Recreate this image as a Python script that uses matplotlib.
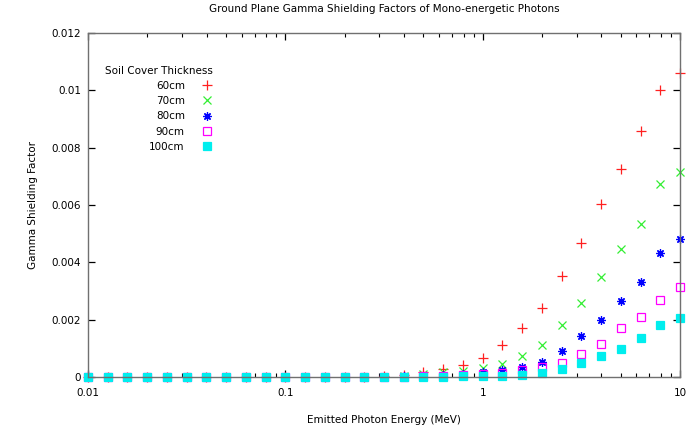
import matplotlib
matplotlib.use("Agg")
import matplotlib.pyplot as plt
from matplotlib.ticker import FixedLocator, FuncFormatter, LogLocator, NullFormatter

energies = [0.01, 0.0126, 0.0158, 0.02, 0.0251, 0.0316, 0.0398, 0.0501, 0.0631, 0.0794,
            0.1, 0.126, 0.158, 0.2, 0.251, 0.316, 0.398, 0.501, 0.631, 0.794,
            1.0, 1.26, 1.58, 2.0, 2.51, 3.16, 3.98, 5.01, 6.31, 7.94, 10.0]

z15 = [0.0] * 15
sf_60 = z15 + [0.00004, 0.00008, 0.00018, 0.00029, 0.00041, 0.00065, 0.00111, 0.00172, 0.00242,
               0.00353, 0.00466, 0.00603, 0.00724, 0.00857, 0.01001, 0.01062]
sf_70 = z15 + [0.00001, 0.00005, 0.0001, 0.00017, 0.00021, 0.0003, 0.00047, 0.00075, 0.00112,
               0.0018, 0.00257, 0.0035, 0.00446, 0.00533, 0.00675, 0.00716]
sf_80 = z15 + [0.0, 0.00002, 0.00004, 0.00006, 0.0001, 0.00017, 0.00023, 0.00034, 0.00052,
               0.00092, 0.00143, 0.00199, 0.00265, 0.0033, 0.00434, 0.00483]
sf_90 = z15 + [0.0, 0.0, 0.00002, 0.00003, 0.00006, 0.0001, 0.00015, 0.00023, 0.00034,
               0.0005, 0.00081, 0.00115, 0.00171, 0.00208, 0.0027, 0.00315]
sf_100 = z15 + [0.0, 0.0, 0.0, 0.00001, 0.00002, 0.00003, 0.00005, 0.00008, 0.00015,
                0.00027, 0.0005, 0.00072, 0.00099, 0.00136, 0.0018, 0.00207]

labels = ["60cm", "70cm", "80cm", "90cm", "100cm"]
series = [sf_60, sf_70, sf_80, sf_90, sf_100]
colors = ["#ff2020", "#33ee33", "#0000ff", "#ff00ff", "#00eeee"]
markers = ["+", "x", (8, 2, 0), "s", "s"]
fills = ["full", "full", "full", "none", "full"]
sizes = [6.5, 5.5, 6, 5.5, 5.5]

yticks = [0, 0.002, 0.004, 0.006, 0.008, 0.01, 0.012]
xticks = [0.01, 0.1, 1, 10]

plt.rcParams['font.family'] = ['DejaVu Sans']
fig = plt.figure(figsize=(6.91, 4.26), dpi=100)
ax = fig.add_axes([88/691, 49/426, 592/691, 344/426])

for y, lab, c, m, f, s in zip(series, labels, colors, markers, fills, sizes):
    ax.plot(energies, y, linestyle="none", marker=m, color=c, fillstyle=f,
            markersize=s, markeredgewidth=0.9, label=lab, clip_on=False)

ax.set_xscale("log")
ax.set_xlim(0.01, 10)
ax.set_ylim(0, 0.012)
ax.xaxis.set_major_locator(FixedLocator(xticks))
ax.xaxis.set_major_formatter(FuncFormatter(lambda v, p: "%g" % v))
ax.xaxis.set_minor_locator(LogLocator(base=10, subs=range(2, 10)))
ax.xaxis.set_minor_formatter(NullFormatter())
ax.yaxis.set_major_locator(FixedLocator(yticks))
ax.yaxis.set_major_formatter(FuncFormatter(lambda v, p: "%g" % v))

ax.tick_params(which="both", direction="in", top=True, right=True, labelsize=7.5, colors="black")
ax.tick_params(which="major", length=5, width=0.9)
ax.tick_params(which="minor", length=3, width=0.8)
ax.tick_params(axis="x", pad=8)
ax.tick_params(axis="y", pad=5)
for sp in ax.spines.values():
    sp.set_color("#707070")
    sp.set_linewidth(1.0)

ax.set_title("Ground Plane Gamma Shielding Factors of Mono-energetic Photons",
             fontsize=7.5, pad=15)
ax.set_xlabel("Emitted Photon Energy (MeV)", fontsize=7.5, labelpad=12)
ax.set_ylabel("Gamma Shielding Factor", fontsize=7.5, labelpad=10)

leg = ax.legend(loc="upper left", bbox_to_anchor=(0.02, 0.92), frameon=False,
                markerfirst=False, title="Soil Cover Thickness", fontsize=7.5,
                title_fontsize=7.5, alignment="right", borderpad=0,
                labelspacing=0.5, handlelength=1.2, handletextpad=1.5)

fig.savefig("out.png", dpi=100)
